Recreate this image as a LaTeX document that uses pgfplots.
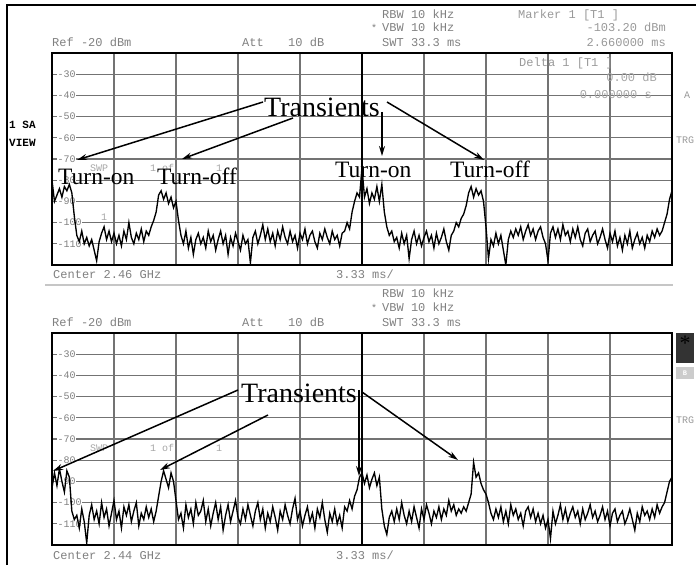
\documentclass[border=0pt]{standalone}
\usepackage{pgfplots}
\pgfplotsset{compat=1.18}
\usepackage{pgfplotstable}
\usetikzlibrary{arrows.meta}
\usepackage{fontspec}
\setmainfont{Liberation Serif}
\newfontfamily\mono{Liberation Mono}
\newcommand\mt[1]{{\mono\fontsize{12}{12}\selectfont #1}}
\newcommand\ms[1]{{\mono\fontsize{10}{10}\selectfont #1}}
\definecolor{txtgray}{gray}{0.5}

\pgfplotstableread[row sep=\\]{y\\
-80\\-90\\-87\\-84\\-88\\-83\\-85\\-82\\-86\\-97\\
-106\\-109\\-104\\-110\\-107\\-111\\-108\\-113\\-118\\-109\\
-105\\-102\\-108\\-104\\-109\\-105\\-110\\-106\\-111\\-104\\
-108\\-100\\-107\\-110\\-105\\-108\\-103\\-109\\-104\\-106\\
-102\\-99\\-95\\-87\\-85\\-89\\-86\\-91\\-88\\-93\\
-90\\-99\\-106\\-110\\-104\\-112\\-107\\-115\\-108\\-105\\
-110\\-107\\-112\\-104\\-109\\-106\\-113\\-108\\-104\\-110\\
-106\\-115\\-107\\-111\\-105\\-109\\-113\\-106\\-110\\-108\\
-119\\-107\\-104\\-110\\-106\\-101\\-108\\-103\\-109\\-105\\
-111\\-104\\-108\\-102\\-107\\-110\\-104\\-109\\-106\\-112\\
-105\\-108\\-103\\-110\\-106\\-104\\-109\\-112\\-105\\-108\\
-103\\-107\\-110\\-104\\-108\\-106\\-111\\-105\\-104\\-100\\
-103\\-95\\-90\\-86\\-88\\-74\\-88\\-84\\-91\\-86\\
-89\\-83\\-90\\-82\\-95\\-102\\-106\\-104\\-109\\-107\\
-112\\-105\\-110\\-106\\-117\\-108\\-104\\-110\\-106\\-111\\
-107\\-104\\-109\\-106\\-112\\-105\\-110\\-107\\-103\\-109\\
-113\\-106\\-104\\-100\\-102\\-98\\-96\\-92\\-86\\-83\\
-88\\-84\\-87\\-85\\-90\\-102\\-117\\-108\\-111\\-105\\
-110\\-106\\-113\\-120\\-108\\-104\\-107\\-103\\-106\\-102\\
-108\\-104\\-101\\-106\\-103\\-108\\-104\\-102\\-107\\-110\\
-118\\-105\\-102\\-107\\-103\\-108\\-101\\-106\\-104\\-109\\
-103\\-107\\-102\\-108\\-111\\-105\\-103\\-109\\-106\\-104\\
-110\\-107\\-103\\-108\\-112\\-105\\-109\\-104\\-111\\-107\\
-113\\-106\\-110\\-104\\-112\\-108\\-105\\-110\\-107\\-112\\
-106\\-109\\-104\\-107\\-103\\-106\\-104\\-100\\-96\\-89\\
-85\\
}\toptrace

\pgfplotstableread[row sep=\\]{y\\
-93\\-86\\-92\\-84\\-90\\-95\\-85\\-88\\-104\\-108\\
-106\\-112\\-103\\-109\\-119\\-106\\-101\\-108\\-104\\-110\\
-100\\-107\\-103\\-111\\-105\\-99\\-108\\-104\\-112\\-102\\
-106\\-101\\-109\\-104\\-100\\-111\\-105\\-108\\-102\\-107\\
-103\\-109\\-104\\-97\\-90\\-85\\-89\\-93\\-86\\-90\\
-99\\-108\\-105\\-112\\-101\\-107\\-103\\-110\\-100\\-106\\
-104\\-99\\-109\\-103\\-111\\-105\\-100\\-108\\-102\\-113\\
-106\\-101\\-109\\-104\\-99\\-107\\-110\\-103\\-108\\-101\\
-106\\-111\\-104\\-100\\-108\\-103\\-112\\-105\\-109\\-102\\
-107\\-113\\-104\\-108\\-101\\-106\\-110\\-103\\-98\\-108\\
-104\\-111\\-106\\-102\\-109\\-105\\-112\\-103\\-107\\-100\\
-108\\-114\\-105\\-109\\-103\\-110\\-106\\-112\\-102\\-104\\
-99\\-103\\-97\\-94\\-88\\-86\\-91\\-87\\-93\\-89\\
-86\\-92\\-88\\-103\\-111\\-115\\-107\\-104\\-109\\-103\\
-108\\-100\\-106\\-110\\-104\\-109\\-102\\-107\\-112\\-103\\
-108\\-101\\-105\\-110\\-104\\-107\\-102\\-108\\-103\\-106\\
-99\\-104\\-101\\-106\\-103\\-105\\-102\\-104\\-100\\-96\\
-81\\-88\\-86\\-91\\-94\\-96\\-100\\-105\\-108\\-103\\
-107\\-102\\-109\\-104\\-110\\-101\\-106\\-103\\-108\\-105\\
-111\\-104\\-102\\-107\\-103\\-109\\-105\\-110\\-106\\-112\\
-108\\-117\\-104\\-110\\-106\\-101\\-108\\-103\\-109\\-105\\
-102\\-107\\-104\\-110\\-103\\-108\\-105\\-101\\-107\\-104\\
-109\\-106\\-102\\-108\\-104\\-111\\-105\\-103\\-109\\-106\\
-104\\-110\\-107\\-103\\-108\\-113\\-105\\-109\\-102\\-106\\
-104\\-108\\-103\\-107\\-101\\-105\\-102\\-100\\-95\\-90\\
-88\\
}\bottrace

\pgfplotsset{
  scrgrid/.style={
    anchor=south west, scale only axis, width=620pt, height=212pt,
    xmin=0, xmax=250, ymin=-120, ymax=-20,
    xtick={25,50,...,225}, ytick={-110,-100,...,-30},
    xticklabels={}, yticklabels={}, major tick length=0pt,
    grid=major, grid style={draw=black!55, line width=1.3pt},
    axis line style={line width=2pt},
    extra x ticks={125}, extra x tick labels={},
    extra x tick style={grid style={draw=black, line width=1.8pt}},
  },
  scrtrace/.style={
    anchor=south west, scale only axis, width=620pt, height=212pt,
    xmin=0, xmax=250, ymin=-120, ymax=-20, axis lines=none,
  },
}
\tikzset{lab/.style={anchor=west, xshift=5pt, fill=white, inner sep=0.4pt, text=txtgray, font=\mono\fontsize{10}{10}\selectfont}}

\begin{document}
\begin{tikzpicture}[x=1pt,y=1pt]
\useasboundingbox (0,0) rectangle (696,565);
% outer frame
\draw[line width=2.5pt] (7,0) -- (7,560) -- (697,560);

% ===== top panel =====
\begin{axis}[scrgrid, at={(52pt,300pt)}]
\addplot[draw=none] coordinates {(0,-100)};
\foreach \v in {30,40,...,110} {\edef\tmp{\noexpand\node[lab] at (axis cs:0,-\v) {-\v};}\tmp}
\end{axis}
\begin{axis}[scrtrace, at={(52pt,300pt)}]
\addplot[black, line width=1.35pt] table[x expr=\coordindex, y=y] {\toptrace};
\end{axis}

% header texts top
\node[anchor=base west, text=txtgray, inner sep=0] at (52,518) {\mt{Ref -20 dBm}};
\node[anchor=base west, text=txtgray, inner sep=0] at (242,518) {\mt{Att}};
\node[anchor=base west, text=txtgray, inner sep=0] at (288,518) {\mt{10 dB}};
\node[anchor=base west, text=txtgray, inner sep=0] at (382,546) {\mt{RBW 10 kHz}};
\node[anchor=base west, text=txtgray, inner sep=0] at (371,533) {\ms{*}};
\node[anchor=base west, text=txtgray, inner sep=0] at (382,533) {\mt{VBW 10 kHz}};
\node[anchor=base west, text=txtgray, inner sep=0] at (382,518) {\mt{SWT 33.3 ms}};
\node[anchor=base west, text=txtgray!80, inner sep=0] at (518,546) {\mt{Marker 1 [T1 ]}};
\node[anchor=base east, text=txtgray!80, inner sep=0] at (666,533) {\mt{-103.20 dBm}};
\node[anchor=base east, text=txtgray!80, inner sep=0] at (666,518) {\mt{2.660000 ms}};
\node[anchor=base west, text=txtgray!80, inner sep=0] at (519,498) {\mt{Delta 1 [T1 ]}};
\node[anchor=base east, text=txtgray!70, inner sep=0] at (657,483) {\mt{0.00 dB}};
\node[anchor=base east, text=txtgray!70, inner sep=0] at (652,466) {\mt{0.000000 s}};
\node[anchor=base west, text=txtgray!80, inner sep=0] at (684,466) {\ms{A}};
\node[anchor=base west, text=txtgray!80, inner sep=0] at (676,421) {\ms{TRG}};
\node[anchor=base west, inner sep=0] at (9,436) {\mono\bfseries\fontsize{11}{11}\selectfont 1 SA};
\node[anchor=base west, inner sep=0] at (9,418) {\mono\bfseries\fontsize{11}{11}\selectfont VIEW};
\node[anchor=base west, text=txtgray!70, inner sep=0] at (90,393) {\ms{SWP}};
\node[anchor=base west, text=txtgray!70, inner sep=0] at (150,393) {\ms{1 of}};
\node[anchor=base west, text=txtgray!70, inner sep=0] at (216,393) {\ms{1}};
\node[anchor=base west, text=txtgray!70, inner sep=0] at (101,344) {\ms{1}};
\node[anchor=base west, text=txtgray, inner sep=0] at (53,286) {\mt{Center 2.46 GHz}};
\node[anchor=base west, text=txtgray, inner sep=0] at (336,286) {\mt{3.33 ms/}};
\draw[gray!45, line width=2pt] (45,280) -- (673,280);

% ===== bottom panel =====
\begin{axis}[scrgrid, at={(52pt,20pt)}]
\addplot[draw=none] coordinates {(0,-100)};
\foreach \v in {30,40,...,110} {\edef\tmp{\noexpand\node[lab] at (axis cs:0,-\v) {-\v};}\tmp}
\end{axis}
\begin{axis}[scrtrace, at={(52pt,20pt)}]
\addplot[black, line width=1.35pt] table[x expr=\coordindex, y=y] {\bottrace};
\end{axis}

\node[anchor=base west, text=txtgray, inner sep=0] at (382,267) {\mt{RBW 10 kHz}};
\node[anchor=base west, text=txtgray, inner sep=0] at (371,253) {\ms{*}};
\node[anchor=base west, text=txtgray, inner sep=0] at (382,253) {\mt{VBW 10 kHz}};
\node[anchor=base west, text=txtgray, inner sep=0] at (382,238) {\mt{SWT 33.3 ms}};
\node[anchor=base west, text=txtgray, inner sep=0] at (52,238) {\mt{Ref -20 dBm}};
\node[anchor=base west, text=txtgray, inner sep=0] at (242,238) {\mt{Att}};
\node[anchor=base west, text=txtgray, inner sep=0] at (288,238) {\mt{10 dB}};
\node[anchor=base west, text=txtgray!70, inner sep=0] at (90,113) {\ms{SWP}};
\node[anchor=base west, text=txtgray!70, inner sep=0] at (150,113) {\ms{1 of}};
\node[anchor=base west, text=txtgray!70, inner sep=0] at (216,113) {\ms{1}};
\node[anchor=base west, text=txtgray!80, inner sep=0] at (676,141) {\ms{TRG}};
\node[anchor=base west, text=txtgray, inner sep=0] at (53,6) {\mt{Center 2.44 GHz}};
\node[anchor=base west, text=txtgray, inner sep=0] at (336,6) {\mt{3.33 ms/}};
\fill[black!80] (676,202) rectangle (694,232);
\node[inner sep=0] at (685,222) {\fontsize{22}{22}\selectfont *};
\fill[gray!40] (676,186) rectangle (694,198);
\node[inner sep=0, text=white] at (685,192) {\mono\bfseries\fontsize{7}{7}\selectfont B};

% ===== annotations =====
\tikzset{ann/.style={-{Stealth[length=10pt,width=6pt]}, line width=1.5pt}}
\node[anchor=base west, inner sep=0] at (264,448) {\fontsize{28}{28}\selectfont Transients};
\node[anchor=base west, inner sep=0] at (58,380) {\fontsize{23.5}{24}\selectfont Turn-on};
\node[anchor=base west, inner sep=0] at (157,380) {\fontsize{23.5}{24}\selectfont Turn-off};
\node[anchor=base west, inner sep=0] at (335,387) {\fontsize{23.5}{24}\selectfont Turn-on};
\node[anchor=base west, inner sep=0] at (450,387) {\fontsize{23.5}{24}\selectfont Turn-off};
\draw[ann] (263,463) -- (77,405);
\draw[ann] (293,447) -- (182,406);
\draw[ann] (382,453) -- (382,409);
\draw[ann] (387,463) -- (484,405);

\node[anchor=base west, inner sep=0] at (241,162) {\fontsize{28}{28}\selectfont Transients};
\draw[ann] (238,175) -- (53,94);
\draw[ann] (268,150) -- (160,95);
\draw[ann] (359,175) -- (359,89);
\draw[ann] (362,173) -- (458,105);
\end{tikzpicture}
\end{document}
